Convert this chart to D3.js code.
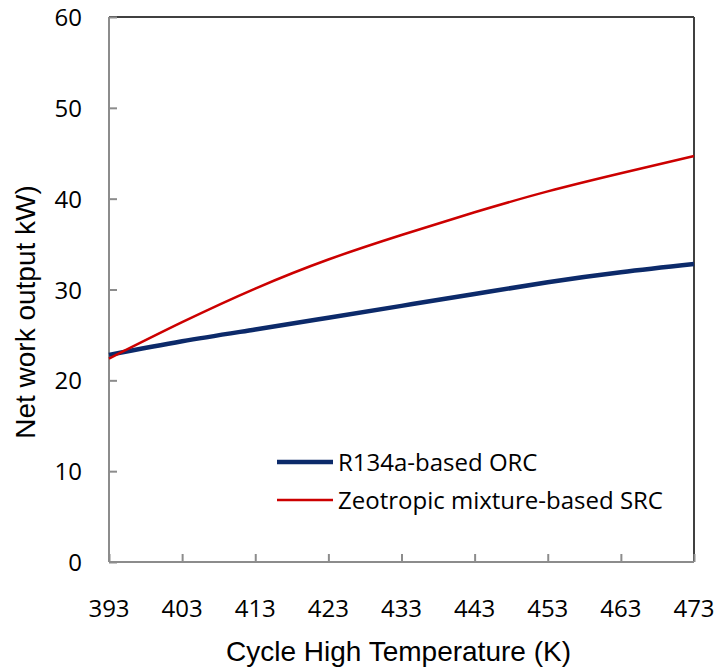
<!DOCTYPE html>
<html><head><meta charset="utf-8">
<script src="https://cdn.jsdelivr.net/npm/d3@7"></script>
<style>body{margin:0;background:#fff}svg{display:block}</style>
</head><body>
<svg id="c" width="715" height="668"></svg>
<script>
const temps = [393, 403, 413, 423, 433, 443, 453, 463, 473];
const orcValues = [22.8, 24.3, 25.6, 26.9, 28.2, 29.5, 30.8, 31.9, 32.8];
const srcValues = [22.4, 26.4, 30.1, 33.3, 36.0, 38.5, 40.8, 42.8, 44.7];
const xTicks = [393, 403, 413, 423, 433, 443, 453, 463, 473];
const yTicks = [0, 10, 20, 30, 40, 50, 60];
const seriesNames = ["R134a-based ORC", "Zeotropic mixture-based SRC"];
const xTitle = "Cycle High Temperature (K)";
const yTitle = "Net work output kW)";

const svg = d3.select("#c");
const L = 109, R = 694, T = 17, B = 562;
const x = d3.scaleLinear().domain([393, 473]).range([L, R]);
const y = d3.scaleLinear().domain([0, 60]).range([B, T]);
const tickFont = "'Open Sans', sans-serif";

// frame top/right
svg.append("line").attr("x1", L).attr("x2", R).attr("y1", T).attr("y2", T)
  .attr("stroke", "#404040").attr("stroke-width", 2);
svg.append("line").attr("x1", R).attr("x2", R).attr("y1", T).attr("y2", B)
  .attr("stroke", "#404040").attr("stroke-width", 2);

// y axis
const yAxis = svg.append("g").attr("transform", `translate(${L},0)`)
  .call(d3.axisRight(y).tickValues(yTicks).tickSize(8).tickFormat(""));
yAxis.select(".domain").attr("stroke", "#8c8c8c").attr("stroke-width", 2).attr("d", `M0,${T}V${B}`);
yAxis.selectAll(".tick line").attr("stroke", "#8c8c8c").attr("stroke-width", 2);
svg.append("g").selectAll("text").data(yTicks).join("text")
  .attr("x", 82).attr("y", d => y(d) + 9)
  .attr("text-anchor", "end").attr("font-family", tickFont).attr("font-size", 24)
  .attr("fill", "#000").text(d => d);

// x axis
const xAxis = svg.append("g").attr("transform", `translate(0,${B})`)
  .call(d3.axisTop(x).tickValues(xTicks).tickSize(8).tickFormat(""));
xAxis.select(".domain").attr("stroke", "#8c8c8c").attr("stroke-width", 2).attr("d", `M${L},0H${R}`);
xAxis.selectAll(".tick line").attr("stroke", "#8c8c8c").attr("stroke-width", 2);
svg.append("g").selectAll("text").data(xTicks).join("text")
  .attr("x", d => x(d)).attr("y", 617)
  .attr("text-anchor", "middle").attr("font-family", tickFont).attr("font-size", 24)
  .attr("fill", "#000").text(d => d);

// titles
svg.append("text").attr("x", (L + R) / 2 - 3).attr("y", 661)
  .attr("text-anchor", "middle").attr("font-family", "'Liberation Sans', Arial, sans-serif")
  .attr("font-size", 28).text(xTitle);
svg.append("text").attr("transform", `translate(35,312) rotate(-90)`)
  .attr("text-anchor", "middle").attr("font-family", "'Liberation Sans', Arial, sans-serif")
  .attr("font-size", 28).text(yTitle);

// lines
const line = d3.line().x((d, i) => x(temps[i])).y(d => y(d)).curve(d3.curveNatural);
const colors = ["#0c2a6a", "#cc0000"];
const widths = [4.5, 2.5];
[orcValues, srcValues].forEach((vals, k) => {
  svg.append("path").datum(vals).attr("d", line).attr("fill", "none")
    .attr("stroke", colors[k]).attr("stroke-width", widths[k]);
});

// legend
const legY = [462, 500];
seriesNames.forEach((n, k) => {
  svg.append("line").attr("x1", 277).attr("x2", 333).attr("y1", legY[k]).attr("y2", legY[k])
    .attr("stroke", colors[k]).attr("stroke-width", widths[k]);
  svg.append("text").attr("x", 338).attr("y", legY[k] + 9).attr("font-family", tickFont)
    .attr("font-size", 24).attr("fill", "#000").text(n);
});
</script>
</body></html>
